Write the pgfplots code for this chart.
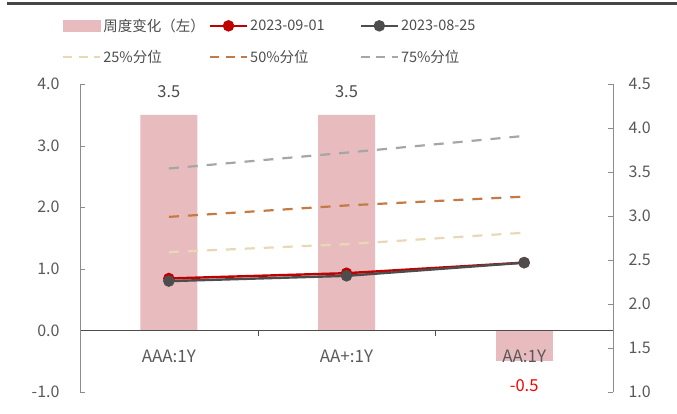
\documentclass[border=0pt]{standalone}
\usepackage{fontspec}
\setmainfont{Noto Sans CJK SC}
\usepackage{pgfplots}
\pgfplotsset{compat=1.18}

\definecolor{barpink}{HTML}{E8BCBE}
\definecolor{redline}{HTML}{C00000}
\definecolor{greyline}{HTML}{4D4D4D}
\definecolor{p25}{HTML}{E9D8B6}
\definecolor{p50}{HTML}{C47A44}
\definecolor{p75}{HTML}{A6A6A6}
\definecolor{ticktext}{HTML}{595959}
\definecolor{axisgrey}{HTML}{8C8C8C}

\pgfplotsset{
  base/.style={
    scale only axis, width=533bp, height=308bp,
    at={(0,0)}, anchor=south west,
    xmin=-0.5, xmax=2.5,
    tick label style={font=\fontsize{16bp}{18bp}\selectfont, color=ticktext},
    /pgf/number format/assume math mode=true,
    /pgf/number format/.cd, fixed, fixed zerofill, precision=1,
  },
  dashleg/.style={
    legend image code/.code={\draw[##1, dash pattern=on 9bp off 6.5bp] (0bp,0bp) -- (37bp,0bp);},
  },
}

\begin{document}
\begin{tikzpicture}
\useasboundingbox (-80bp,-22bp) rectangle (597bp,392bp);

% left axis: weekly change (bars)
\begin{axis}[base,
  axis on top,
  ymin=-1, ymax=4, ytick={-1,0,...,4},
  axis y line*=left, axis x line*=middle,
  axis line style={-, draw=axisgrey, line width=0.8bp},
  y axis line style={draw=axisgrey},
  x axis line style={draw=greyline, line width=1bp},
  ytick align=inside, y tick style={draw=axisgrey},
  major tick length=5bp,
  xtick={0,1,2}, xticklabels={AAA:1Y, AA+:1Y, AA:1Y},
  major x tick style={draw=none},
  minor xtick={0.5,1.5}, xtick align=outside, minor x tick style={draw=greyline},
  minor tick length=6bp,
  x tick label style={yshift=-11bp, font=\fontsize{17bp}{19bp}\selectfont},
  yticklabel style={xshift=-17bp},
]
\addplot[ybar, bar width=57bp, bar shift=0pt, fill=barpink, draw=none,
  nodes near coords,
  nodes near coords style={font=\fontsize{16.5bp}{18bp}\selectfont, color=greyline, anchor=south, yshift=14bp},
] coordinates {(0,3.5) (1,3.5)};
\addplot[ybar, bar width=57bp, bar shift=0pt, fill=barpink, draw=none,
  nodes near coords,
  nodes near coords style={font=\fontsize{16.5bp}{18bp}\selectfont, color=red, anchor=north, yshift=-15bp},
] coordinates {(2,-0.5)};
\end{axis}

% right axis: yields and percentiles
\begin{axis}[base,
  ymin=1, ymax=4.5, ytick={1,1.5,...,4.5},
  axis y line*=right, axis x line=none,
  y axis line style={-, draw=axisgrey, line width=0.8bp},
  ytick align=inside, y tick style={draw=axisgrey},
  major tick length=5bp,
  yticklabel style={xshift=12bp},
  legend columns=3,
  legend style={
    at={(axis description cs:-0.0395,1.225)}, anchor=north west,
    draw=none, fill=none,
    font=\fontsize{14.5bp}{17bp}\selectfont, text=greyline,
    /tikz/row sep=13bp,
    /tikz/column 2/.style={column sep=2bp},
    /tikz/column 4/.style={column sep=33bp},
  },
  legend cell align=left,
  legend image code/.code={
    \draw[mark repeat=2, mark phase=2, #1] plot coordinates {(0bp,0bp) (18.5bp,0bp) (37bp,0bp)};
  },
]
\addlegendimage{legend image code/.code={\fill[barpink] (0bp,-5.5bp) rectangle (37bp,5.5bp);}}
\addlegendentry{周度变化（左）}

\addplot[color=redline, line width=2.4bp, mark=*, mark size=4.5bp,
  mark options={fill=redline, draw=redline}]
  coordinates {(0,2.29) (1,2.35) (2,2.47)};
\addlegendentry{2023-09-01}

\addplot[color=greyline, line width=2.4bp, mark=*, mark size=4.5bp,
  mark options={fill=greyline, draw=greyline}]
  coordinates {(0,2.26) (1,2.32) (2,2.47)};
\addlegendentry{2023-08-25}

\addplot[color=p25, line width=2.2bp, dash pattern=on 10bp off 9bp, no marks, dashleg]
  coordinates {(0,2.59) (1,2.68) (2,2.81)};
\addlegendentry{25\%分位}

\addplot[color=p50, line width=2.2bp, dash pattern=on 10bp off 9bp, no marks, dashleg]
  coordinates {(0,2.99) (1,3.12) (2,3.22)};
\addlegendentry{50\%分位}

\addplot[color=p75, line width=2.2bp, dash pattern=on 10bp off 9bp, no marks, dashleg]
  coordinates {(0,3.54) (1,3.72) (2,3.91)};
\addlegendentry{75\%分位}
\end{axis}

% edge of the cut-off title rule
\draw[line width=3bp, color=greyline!90!black] (-73bp,388bp) -- (597bp,388bp);
\end{tikzpicture}
\end{document}
